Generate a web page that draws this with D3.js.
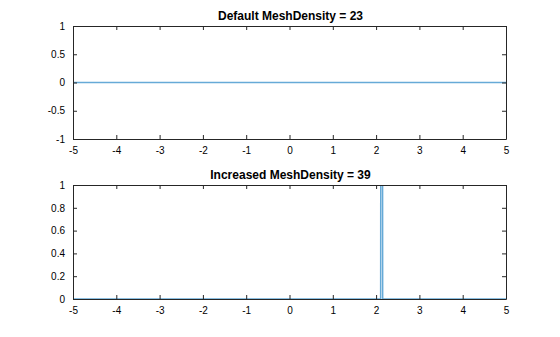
<!DOCTYPE html>
<html>
<head>
<meta charset="utf-8">
<script src="https://cdn.jsdelivr.net/npm/d3@7"></script>
<style>
  html, body { margin: 0; padding: 0; background: #fff; }
  svg { display: block; font-family: "Liberation Sans", Arial, sans-serif; }
</style>
</head>
<body>
<svg id="chart" width="560" height="337"></svg>
<script>
// Sampled function values for the two plots
const topTitle = "Default MeshDensity = 23";
const topX = [-5, -4.5455, -4.0909, -3.6364, -3.1818, -2.7273, -2.2727, -1.8182, -1.3636, -0.9091, -0.4545, 0,
              0.4545, 0.9091, 1.3636, 1.8182, 2.2727, 2.7273, 3.1818, 3.6364, 4.0909, 4.5455, 5];
const topY = topX.map(() => 0);
const topYTicks = [-1, -0.5, 0, 0.5, 1];

const botTitle = "Increased MeshDensity = 39";
const botX = [-5, -2.5, 0, 1.5, 2.0, 2.105, 2.107, 2.150, 2.152, 2.5, 3.5, 5];
const botY = [0, 0, 0, 0, 0, 0, 1, 1, 0, 0, 0, 0];
const botYTicks = [0, 0.2, 0.4, 0.6, 0.8, 1];

const xTicks = [-5, -4, -3, -2, -1, 0, 1, 2, 3, 4, 5];

const svg = d3.select("#chart");
const left = 73, right = 506;

function panel(y0, y1, title, xs, ys, yDomain, yTicks) {
  const x = d3.scaleLinear().domain([-5, 5]).range([left, right]);
  const y = d3.scaleLinear().domain(yDomain).range([y1, y0]);
  const g = svg.append("g");

  // data line, clipped to the axes box
  const clipId = "clip" + y0;
  svg.append("clipPath").attr("id", clipId)
    .append("rect").attr("x", left).attr("y", y0).attr("width", right - left).attr("height", y1 - y0);
  const pts = xs.map((v, i) => [v, ys[i]]);
  g.append("path")
    .attr("clip-path", `url(#${clipId})`)
    .attr("d", d3.line().x(d => x(d[0])).y(d => y(d[1]))(pts))
    .attr("fill", "none")
    .attr("stroke", "#0072BD")
    .attr("stroke-opacity", 0.6)
    .attr("stroke-width", 1.5);

  const tk = 4;
  const fmt = d => (d < 0 ? "-" : "") + String(Math.abs(d));
  // bottom / top axes (ticks inward)
  g.append("g").attr("transform", `translate(0,${y1})`)
    .call(d3.axisBottom(x).tickValues(xTicks).tickSizeInner(-tk).tickSizeOuter(0).tickPadding(8).tickFormat(fmt));
  g.append("g").attr("transform", `translate(0,${y0})`)
    .call(d3.axisTop(x).tickValues(xTicks).tickSizeInner(-tk).tickSizeOuter(0).tickFormat(""));
  g.append("g").attr("transform", `translate(${left},0)`)
    .call(d3.axisLeft(y).tickValues(yTicks).tickSizeInner(-tk).tickSizeOuter(0).tickPadding(8).tickFormat(fmt));
  g.append("g").attr("transform", `translate(${right},0)`)
    .call(d3.axisRight(y).tickValues(yTicks).tickSizeInner(-tk).tickSizeOuter(0).tickFormat(""));

  g.selectAll(".domain").attr("stroke", "#262626").attr("stroke-width", 1);
  g.selectAll(".tick line").attr("stroke", "#262626");
  g.selectAll(".tick text").attr("fill", "#000").attr("font-size", 10)
    .attr("font-family", "Liberation Sans, Arial, sans-serif");

  g.append("text")
    .attr("x", (left + right) / 2 + 1).attr("y", y0 - 6)
    .attr("text-anchor", "middle")
    .attr("font-size", 12).attr("font-weight", "bold").attr("fill", "#000")
    .text(title);
}

panel(26, 139, topTitle, topX, topY, [-1, 1], topYTicks);
panel(185, 299, botTitle, botX, botY, [0, 1], botYTicks);
</script>
</body>
</html>
